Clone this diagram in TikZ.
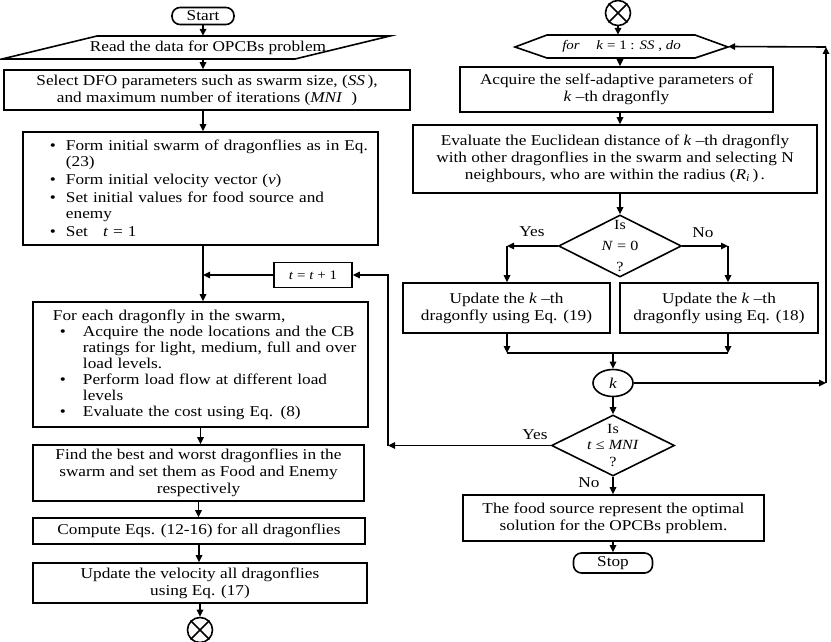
\documentclass[tikz,border=0pt]{standalone}
\usepackage{fontspec}
\setmainfont{Liberation Serif}[FakeStretch=1.15]
\usetikzlibrary{arrows.meta,shapes.geometric}
\newcommand\mybul[2]{\makebox[#1][l]{\hspace*{#2}\textbullet}}
\begin{document}
\begin{tikzpicture}[x=1pt,y=-1pt,
  every node/.style={font=\fontsize{15}{17}\selectfont},
  box/.style={draw, line width=1.6pt, align=center, inner sep=0pt},
  ln/.style={line width=1.6pt},
  arr/.style={ln, -{Triangle[length=7pt,width=6.5pt]}},
  term/.style={box, rounded corners=8pt},
  lbl/.style={inner sep=0pt}]
\useasboundingbox (0,0) rectangle (831,642);
% ---------------- left column ----------------
\coordinate (lc) at (203,0);
\node[term, minimum width=62pt, minimum height=17pt] (start) at (203,16) {Start};
\draw[ln] (97,36) -- (390,36) -- (295,59) -- (2,59) -- cycle;
\node[minimum height=23pt, inner sep=0pt] (read) at (208,47.5) {Read the data for OPCBs problem};
\draw[arr] (start) -- (start |- read.north);
\node[box, minimum width=406pt, minimum height=40pt] (sel) at (207,90)
  {Select DFO parameters such as swarm size, (\textit{SS}\,),\\ and maximum number of iterations (\textit{MNI}\ \ )};
\draw[arr] (read.south -| lc) -- (sel.north -| lc);
\node[box, minimum width=355pt, minimum height=113pt, text width=355pt, align=left,
  font=\fontsize{15}{16}\selectfont] (init) at (200.5,188.5)
  {\mybul{43pt}{27pt}Form initial swarm of dragonflies as in Eq.\\
   \hspace*{43pt}(23)\\[2pt]
   \mybul{43pt}{27pt}Form initial velocity vector (\textit{v})\\[2pt]
   \mybul{43pt}{27pt}Set initial values for food source and\\
   \hspace*{43pt}enemy\\[2pt]
   \mybul{43pt}{27pt}Set \ \ \textit{t} = 1};
\draw[arr] (sel.south -| lc) -- (init.north -| lc);
\node[box, minimum width=335pt, minimum height=125pt, text width=335pt, align=left,
  font=\fontsize{15}{16}\selectfont] (each) at (200.5,364.5)
  {\hspace*{20pt}For each dragonfly in the swarm,\\
   \mybul{50pt}{27pt}Acquire the node locations and the CB\\
   \hspace*{50pt}ratings for light, medium, full and over\\
   \hspace*{50pt}load levels.\\
   \mybul{50pt}{27pt}Perform load flow at different load\\
   \hspace*{50pt}levels\\
   \mybul{50pt}{27pt}Evaluate the cost using Eq. (8)};
\coordinate (j1) at (203,275);
\draw[arr] (init.south -| lc) -- (each.north -| lc);
\node[box, minimum width=78pt, minimum height=25pt, font=\fontsize{13}{14}\selectfont] (tinc) at (313,275)
  {\textit{t} = \textit{t} + 1};
\draw[arr] (tinc.west) -- (j1);
\node[box, minimum width=331pt, minimum height=56pt] (best) at (198.5,473)
  {Find the best and worst dragonflies in the\\ swarm and set them as Food and Enemy\\ respectively};
\draw[arr] (each) -- (each |- best.north);
\node[box, minimum width=332pt, minimum height=26pt] (comp) at (199,531)
  {Compute Eqs. (12-16) for all dragonflies};
\draw[arr] (best) -- (best |- comp.north);
\node[box, minimum width=334pt, minimum height=40pt] (vel) at (200,583)
  {Update the velocity all dragonflies\\ using Eq. (17)};
\draw[arr] (comp) -- (comp |- vel.north);
\node[circle, draw, ln, minimum size=25pt, inner sep=0pt] (endA) at (200,630) {};
\draw[ln] (endA.north east) -- (endA.south west) (endA.north west) -- (endA.south east);
\draw[arr] (vel) -- (vel |- endA.north);
% ---------------- right column ----------------
\node[circle, draw, ln, minimum size=25pt, inner sep=0pt] (topc) at (618,13) {};
\draw[ln] (topc.north east) -- (topc.south west) (topc.north west) -- (topc.south east);
\draw[ln] (515,47) -- (547,35) -- (695,35) -- (728,47) -- (695,58) -- (547,58) -- cycle;
\node[minimum width=213pt, minimum height=23pt, inner sep=0pt, font=\fontsize{13}{14}\selectfont] (loop) at (621.5,46.5)
  {\textit{for}\quad\ \textit{k} = 1 : \textit{SS} ,\ \textit{do}};
\draw[arr] (topc) -- (topc |- loop.north);
\coordinate (rc) at (620,0);
\node[box, minimum width=313pt, minimum height=45pt] (acq) at (616.5,89.5)
  {Acquire the self-adaptive parameters of\\ \textit{k} --th dragonfly};
\draw[arr] (loop.south -| rc) -- (acq.north -| rc);
\node[box, minimum width=404pt, minimum height=68pt] (eucl) at (615,159)
  {Evaluate the Euclidean distance of \textit{k} --th dragonfly\\ with other dragonflies in the swarm and selecting N\\ neighbours, who are within the radius (\textit{R}\textsubscript{\textit{i}}\,)\,.};
\draw[arr] (acq.south -| rc) -- (eucl.north -| rc);
\node[diamond, draw, ln, minimum width=123pt, minimum height=62pt, inner sep=0pt] (d1) at (620,246) {};
\node[align=center, font=\fontsize{14}{21}\selectfont] (d1t) at (d1) {Is\\ \textit{N} = 0\\ ?};
\draw[arr] (eucl.south -| rc) -- (d1.north);
\coordinate (yc) at (507,246);
\coordinate (nc) at (728,246);
\draw[arr] (d1.west) -- (yc);
\draw[arr] (d1.east) -- (nc);
\node[lbl] (yes1) at (532,232) {Yes};
\node[lbl] (no1) at (703,233) {No};
\node[box, minimum width=207pt, minimum height=50pt] (u19) at (506.5,308)
  {Update the \textit{k} --th\\ dragonfly using Eq. (19)};
\node[box, minimum width=198pt, minimum height=50pt] (u18) at (719,308)
  {Update the \textit{k} --th\\ dragonfly using Eq. (18)};
\draw[arr] (yc) -- (yc |- u19.north);
\draw[arr] (nc) -- (nc |- u18.north);
\coordinate (m1) at (507,353);
\coordinate (m2) at (728,353);
\coordinate (m3) at (613,353);
\draw[arr] (u19.south -| yc) -- (m1);
\draw[arr] (u18.south -| nc) -- (m2);
\draw[ln] (m1) -- (m2);
\node[ellipse, draw, ln, minimum width=40pt, minimum height=27pt, inner sep=0pt] (kk) at (613,383) {\textit{k}};
\draw[arr] (m3) -- (kk.north);
\coordinate (kr) at (826,383);
\coordinate (tr) at (826,47);
\draw[arr] (kk.east) -- (kr);
\draw[arr] (kr) -- (tr);
\draw[arr] (tr) -- (loop.east);
\node[diamond, draw, ln, minimum width=123pt, minimum height=61pt, inner sep=0pt] (d2) at (613,445.5) {};
\node[align=center, font=\fontsize{14}{16.5}\selectfont] (d2t) at (d2) {Is\\ \textit{t} ≤ \textit{MNI}\\ ?};
\draw[arr] (kk) -- (d2.north);
\coordinate (rl2) at (388,445.5);
\coordinate (rl1) at (388,275);
\draw[arr] (d2.west) -- (rl2);
\draw[arr] (rl2) -- (rl1) -- (tinc.east);
\node[lbl] (yes2) at (535,435) {Yes};
\node[lbl] (no2) at (589,483) {No};
\node[box, minimum width=301pt, minimum height=46pt] (food) at (613.5,518)
  {The food source represent the optimal\\ solution for the OPCBs problem.};
\draw[arr] (d2.south) -- (d2.south |- food.north);
\node[term, minimum width=79pt, minimum height=20pt] (stop) at (613,563) {Stop};
\draw[arr] (food.south -| stop) -- (stop.north);
\end{tikzpicture}
\end{document}
